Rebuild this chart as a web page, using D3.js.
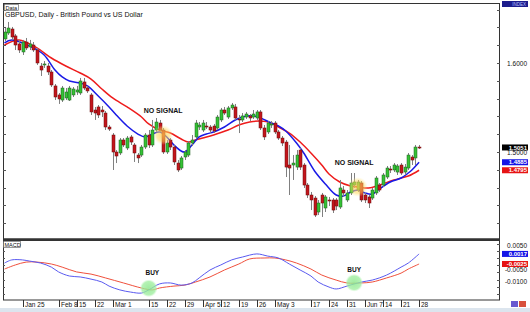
<!DOCTYPE html>
<html>
<head>
<meta charset="utf-8">
<script src="https://cdn.jsdelivr.net/npm/d3@7"></script>
<style>
  body { margin: 0; background: #fff; }
  svg { display: block; font-family: "Liberation Sans", Arial, sans-serif; }
</style>
</head>
<body>
<div id="chart"></div>
<script>
// GBPUSD daily candles, Jan 18 .. Jun 28 (one value per trading day)
var openP = [1.6270,1.6337,1.6382,1.6304,1.6214,1.6124,1.6236,1.6180,1.6202,1.6146,
  1.5966,1.5978,1.5966,1.5899,1.5742,1.5641,1.5584,1.5607,1.5584,1.5641,
  1.5674,1.5663,1.5787,1.5719,1.5641,1.5472,1.5506,1.5472,1.5438,1.5281,
  1.5191,1.5000,1.4989,1.5135,1.5045,1.5169,1.5079,1.4966,1.4966,1.5056,
  1.5191,1.5079,1.5247,1.5326,1.5247,1.5000,1.5135,1.5056,1.4876,1.4820,
  1.4944,1.4966,1.5101,1.5169,1.5281,1.5247,1.5292,1.5281,1.5292,1.5270,
  1.5360,1.5472,1.5393,1.5495,1.5506,1.5371,1.5360,1.5393,1.5405,1.5393,
  1.5382,1.5450,1.5270,1.5225,1.5303,1.5326,1.5225,1.5157,1.5112,1.4854,
  1.4854,1.4831,1.5022,1.4854,1.4629,1.4517,1.4483,1.4326,1.4517,1.4371,
  1.4461,1.4461,1.4461,1.4382,1.4573,1.4461,1.4540,1.4629,1.4573,1.4652,
  1.4517,1.4495,1.4483,1.4540,1.4629,1.4629,1.4719,1.4809,1.4798,1.4775,
  1.4854,1.4775,1.4820,1.4944,1.4933,1.5056];
var highP = [1.6405,1.6461,1.6405,1.6326,1.6259,1.6259,1.6281,1.6259,1.6236,1.6169,
  1.6000,1.6022,1.6000,1.5921,1.5764,1.5663,1.5742,1.5719,1.5742,1.5730,
  1.5742,1.5832,1.5832,1.5742,1.5663,1.5506,1.5528,1.5517,1.5461,1.5303,
  1.5213,1.5022,1.5157,1.5157,1.5180,1.5191,1.5101,1.4989,1.5079,1.5213,
  1.5247,1.5360,1.5382,1.5360,1.5270,1.5135,1.5157,1.5079,1.4910,1.4955,
  1.5022,1.5124,1.5191,1.5360,1.5337,1.5360,1.5337,1.5303,1.5315,1.5416,
  1.5495,1.5506,1.5517,1.5551,1.5540,1.5416,1.5438,1.5450,1.5427,1.5472,
  1.5472,1.5472,1.5303,1.5348,1.5348,1.5348,1.5247,1.5180,1.5135,1.5079,
  1.4966,1.5022,1.5045,1.4876,1.4652,1.4551,1.4506,1.4461,1.4540,1.4517,
  1.4495,1.4483,1.4483,1.4686,1.4618,1.4573,1.4764,1.4764,1.4686,1.4674,
  1.4540,1.4517,1.4596,1.4730,1.4652,1.4764,1.4843,1.4843,1.4876,1.4865,
  1.4876,1.4865,1.4989,1.4966,1.5079,1.5079];
var lowP = [1.6247,1.6315,1.6259,1.6146,1.6112,1.6090,1.6146,1.6146,1.6124,1.5978,
  1.5854,1.5944,1.5865,1.5730,1.5584,1.5540,1.5562,1.5584,1.5573,1.5618,
  1.5641,1.5641,1.5697,1.5663,1.5416,1.5360,1.5382,1.5393,1.5247,1.5236,
  1.4798,1.4876,1.4966,1.5056,1.5022,1.5079,1.4888,1.4876,1.4944,1.5034,
  1.5045,1.5056,1.5225,1.5225,1.4978,1.4978,1.5022,1.4854,1.4775,1.4798,
  1.4910,1.4944,1.5067,1.5146,1.5247,1.5225,1.5258,1.5213,1.5213,1.5247,
  1.5337,1.5416,1.5371,1.5472,1.5360,1.5213,1.5337,1.5371,1.5348,1.5371,
  1.5360,1.5247,1.5135,1.5202,1.5270,1.5202,1.5135,1.5067,1.4719,1.4517,
  1.4686,1.4798,1.4798,1.4596,1.4483,1.4348,1.4270,1.4292,1.4270,1.4326,
  1.4393,1.4315,1.4348,1.4360,1.4495,1.4438,1.4517,1.4596,1.4551,1.4438,
  1.4427,1.4371,1.4461,1.4517,1.4551,1.4607,1.4697,1.4764,1.4775,1.4742,
  1.4742,1.4742,1.4798,1.4854,1.4854,1.5034];
var closeP = [1.6348,1.6393,1.6292,1.6202,1.6146,1.6236,1.6169,1.6214,1.6146,1.6000,
  1.5921,1.5989,1.5899,1.5753,1.5618,1.5596,1.5719,1.5674,1.5719,1.5708,
  1.5697,1.5798,1.5719,1.5686,1.5450,1.5438,1.5416,1.5450,1.5281,1.5258,
  1.5000,1.4955,1.5135,1.5079,1.5157,1.5112,1.4989,1.4933,1.5056,1.5191,
  1.5079,1.5247,1.5337,1.5247,1.5000,1.5101,1.5056,1.4888,1.4798,1.4933,
  1.5000,1.5101,1.5135,1.5326,1.5303,1.5326,1.5290,1.5247,1.5236,1.5393,
  1.5472,1.5438,1.5495,1.5528,1.5382,1.5360,1.5405,1.5427,1.5382,1.5427,
  1.5450,1.5270,1.5169,1.5326,1.5315,1.5225,1.5157,1.5101,1.4831,1.4820,
  1.4876,1.4966,1.4831,1.4629,1.4517,1.4461,1.4292,1.4427,1.4427,1.4495,
  1.4450,1.4348,1.4393,1.4596,1.4540,1.4540,1.4652,1.4663,1.4663,1.4461,
  1.4461,1.4427,1.4573,1.4708,1.4573,1.4742,1.4820,1.4798,1.4854,1.4843,
  1.4764,1.4831,1.4966,1.4910,1.5056,1.5051];

// moving averages (bar index -> price)
var fastIdx = [0,2,8,11,14,16,18,21,23,26,29,31,34,37,39,41,43,45,47,49,50,52,54,56,58,61,64,66,69,71,74,76,78,81,83,86,89,92,94,96,98,100,102,104,107,110,112,113,115];
var fastMA = [1.6225,1.6259,1.6169,1.6090,1.5921,1.5843,1.5798,1.5775,1.5742,1.5629,1.5506,1.5416,1.5292,1.5202,1.5169,1.5202,1.5225,1.5169,1.5079,1.5011,1.5000,1.5079,1.5169,1.5202,1.5225,1.5281,1.5360,1.5393,1.5405,1.5382,1.5326,1.5292,1.5236,1.5101,1.4989,1.4787,1.4641,1.4517,1.4506,1.4551,1.4573,1.4540,1.4528,1.4585,1.4663,1.4708,1.4764,1.4798,1.4885];
var slowIdx = [0,4,9,13,17,21,24,27,30,34,38,40,43,46,49,51,53,55,58,62,65,68,71,74,76,79,82,85,88,90,93,96,98,101,104,108,112,115];
var slowMA = [1.6202,1.6259,1.6169,1.6056,1.5966,1.5888,1.5820,1.5708,1.5607,1.5506,1.5393,1.5315,1.5247,1.5213,1.5146,1.5112,1.5135,1.5157,1.5191,1.5247,1.5303,1.5337,1.5348,1.5326,1.5281,1.5213,1.5112,1.4989,1.4854,1.4753,1.4663,1.4618,1.4607,1.4596,1.4629,1.4686,1.4730,1.4795];

// MACD main and signal lines
var macdIdx = [0,2,5,7,10,13,15,18,21,24,27,29,32,35,38,40,43,46,49,52,54,57,60,63,66,70,73,76,79,82,85,87,90,92,95,99,102,106,110,112,115];
var macdMain = [-0.0021,-0.0008,-0.0008,-0.0013,-0.0021,-0.0038,-0.0058,-0.0075,-0.0079,-0.0088,-0.0100,-0.0117,-0.0133,-0.0142,-0.0146,-0.0133,-0.0108,-0.0104,-0.0113,-0.0104,-0.0083,-0.0050,-0.0029,-0.0008,0.0004,0.0017,0.0008,0.0000,-0.0025,-0.0050,-0.0075,-0.0100,-0.0121,-0.0129,-0.0117,-0.0100,-0.0092,-0.0071,-0.0038,-0.0021,0.0017];
var sigIdx = [0,3,6,9,13,16,20,24,28,33,38,41,43,47,50,53,57,61,65,68,72,75,78,81,85,88,92,95,99,102,106,110,112,115];
var macdSignal = [-0.0046,-0.0029,-0.0017,-0.0017,-0.0025,-0.0038,-0.0058,-0.0067,-0.0083,-0.0104,-0.0125,-0.0133,-0.0125,-0.0117,-0.0113,-0.0100,-0.0079,-0.0050,-0.0025,-0.0004,0.0000,0.0000,-0.0008,-0.0021,-0.0046,-0.0071,-0.0092,-0.0104,-0.0104,-0.0100,-0.0083,-0.0063,-0.0046,-0.0025];

// time axis labels (bar index of each Monday shown)
var dateIdx = [5,15,20,25,30,40,45,50,55,60,65,70,75,85,90,95,100,105,110,115];
var dateLabels = ["Jan 25","Feb 8","15","22","Mar 1","15","22","29","Apr 5","12","19","26","May 3","17","24","31","Jun 7","14","21","28"];

var priceLabels = [1.6, 1.5];
var macdLabels = [0.005, -0.005, -0.01];

var W = 530, H = 312;
var svg = d3.select("#chart").append("svg").attr("width", W).attr("height", H);

var x = d3.scaleLinear().domain([0, 115]).range([4.5, 419.1]);
var y = d3.scaleLinear().domain([1.4034, 1.6674]).range([238, 3]);
var ym = d3.scaleLinear().domain([-0.0175, 0.0075]).range([300, 240]);

// bottom strip
svg.append("rect").attr("x", 0).attr("y", 308).attr("width", W).attr("height", 4).attr("fill", "#dce5ee");

svg.append("clipPath").attr("id", "cMain").append("rect").attr("x", 3).attr("y", 3).attr("width", 497).attr("height", 236);
svg.append("clipPath").attr("id", "cMacd").append("rect").attr("x", 3).attr("y", 240).attr("width", 497).attr("height", 60);

var main = svg.append("g").attr("clip-path", "url(#cMain)");

// moving averages
var line = d3.line().curve(d3.curveCatmullRom.alpha(0.5));
main.append("path")
  .attr("d", line(slowIdx.map(function (d, i) { return [x(d), y(slowMA[i])]; })))
  .attr("fill", "none").attr("stroke", "#ee1c1c").attr("stroke-width", 1.5);
main.append("path")
  .attr("d", line(fastIdx.map(function (d, i) { return [x(d), y(fastMA[i])]; })))
  .attr("fill", "none").attr("stroke", "#1a1ae6").attr("stroke-width", 1.5);

// candles
var bars = openP.map(function (o, i) {
  return { i: i, o: o, h: highP[i], l: lowP[i], c: closeP[i] };
});
var cg = main.selectAll("g.candle").data(bars).enter().append("g").attr("class", "candle");
cg.append("line")
  .attr("x1", function (d) { return Math.round(x(d.i)) + 0.5; })
  .attr("x2", function (d) { return Math.round(x(d.i)) + 0.5; })
  .attr("y1", function (d) { return y(d.h); })
  .attr("y2", function (d) { return y(d.l); })
  .attr("stroke", "#808080").attr("stroke-width", 1);
cg.append("rect")
  .attr("x", function (d) { return Math.round(x(d.i)) - 1; })
  .attr("width", 3)
  .attr("y", function (d) { return y(Math.max(d.o, d.c)); })
  .attr("height", function (d) { return Math.max(1, Math.abs(y(d.o) - y(d.c))); })
  .attr("fill", function (d) { return d.c >= d.o ? "#35c135" : "#c3161c"; })
  .attr("stroke", function (d) { return d.c >= d.o ? "#1f5f1f" : "#6a0c0c"; })
  .attr("stroke-width", 0.5);

// highlight glows
var defs = svg.append("defs");
var gy = defs.append("radialGradient").attr("id", "glowY");
gy.append("stop").attr("offset", "0%").attr("stop-color", "#ffc84a").attr("stop-opacity", 0.75);
gy.append("stop").attr("offset", "65%").attr("stop-color", "#ffd85a").attr("stop-opacity", 0.5);
gy.append("stop").attr("offset", "100%").attr("stop-color", "#fff0a0").attr("stop-opacity", 0);
var gg = defs.append("radialGradient").attr("id", "glowG");
gg.append("stop").attr("offset", "0%").attr("stop-color", "#8fe88f").attr("stop-opacity", 0.85);
gg.append("stop").attr("offset", "75%").attr("stop-color", "#9cee9c").attr("stop-opacity", 0.75);
gg.append("stop").attr("offset", "100%").attr("stop-color", "#c8f7c8").attr("stop-opacity", 0);

[[44, 1.5191], [98, 1.4607]].forEach(function (p) {
  main.append("circle").attr("cx", x(p[0])).attr("cy", y(p[1])).attr("r", 10).attr("fill", "url(#glowY)");
});

// NO SIGNAL labels
[[44, 1.5440], [97, 1.4850]].forEach(function (p) {
  svg.append("text").attr("x", x(p[0])).attr("y", y(p[1]))
    .attr("text-anchor", "middle").attr("font-size", 7).attr("font-weight", "bold")
    .attr("fill", "#111").text("NO SIGNAL");
});

// main panel frame and ticks
svg.append("rect").attr("x", 3.5).attr("y", 3.5).attr("width", 496).attr("height", 235.5)
  .attr("fill", "none").attr("stroke", "#333").attr("stroke-width", 1);
var pTicks = d3.range(1.42, 1.661, 0.02);
pTicks.forEach(function (t) {
  var yy = Math.round(y(t)) + 0.5;
  svg.append("line").attr("x1", 3).attr("x2", 6).attr("y1", yy).attr("y2", yy).attr("stroke", "#555");
  svg.append("line").attr("x1", 497).attr("x2", 500).attr("y1", yy).attr("y2", yy).attr("stroke", "#555");
});
priceLabels.forEach(function (t) {
  svg.append("text").attr("x", 527).attr("y", y(t) + 1).attr("dy", "0.35em")
    .attr("text-anchor", "end").attr("font-size", 6.5).attr("fill", "#111").text(t.toFixed(4));
});

// header texts
svg.append("rect").attr("x", 4.5).attr("y", 4.5).attr("width", 14).attr("height", 6)
  .attr("fill", "#fff").attr("stroke", "#555").attr("stroke-width", 0.6);
svg.append("text").attr("x", 5.5).attr("y", 9.6).attr("font-size", 5.5).attr("fill", "#111").text("Data");
svg.append("text").attr("x", 5).attr("y", 17).attr("font-size", 7).attr("fill", "#111")
  .text("GBPUSD, Daily - British Pound vs US Dollar");

// INDEX tag
svg.append("rect").attr("x", 502).attr("y", 1).attr("width", 26).attr("height", 6).attr("fill", "#1c1c8c");
svg.append("text").attr("x", 526).attr("y", 6).attr("text-anchor", "end").attr("font-size", 4.5)
  .attr("fill", "#b8c0ff").text("INDEX");

// right price tags
function tag(val, yy, bg, fg) {
  svg.append("rect").attr("x", 502).attr("y", yy - 3).attr("width", 26).attr("height", 6).attr("fill", bg);
  svg.append("text").attr("x", 527).attr("y", yy).attr("dy", "0.35em").attr("text-anchor", "end")
    .attr("font-size", 6).attr("font-weight", "bold").attr("fill", fg).text(val);
}
tag(closeP[closeP.length - 1].toFixed(4), y(closeP[closeP.length - 1]), "#000", "#fff");
tag(fastMA[fastMA.length - 1].toFixed(4), y(fastMA[fastMA.length - 1]), "#1414e6", "#fff");
tag(slowMA[slowMA.length - 1].toFixed(4), y(slowMA[slowMA.length - 1]), "#e61414", "#fff");

// MACD panel
var mg = svg.append("g").attr("clip-path", "url(#cMacd)");
mg.append("path")
  .attr("d", line(sigIdx.map(function (d, i) { return [x(d), ym(macdSignal[i])]; })))
  .attr("fill", "none").attr("stroke", "#f0503c").attr("stroke-width", 1);
mg.append("path")
  .attr("d", line(macdIdx.map(function (d, i) { return [x(d), ym(macdMain[i])]; })))
  .attr("fill", "none").attr("stroke", "#5a5af0").attr("stroke-width", 1);

[[40, -0.0126], [97, -0.0103]].forEach(function (p) {
  mg.append("circle").attr("cx", x(p[0])).attr("cy", ym(p[1])).attr("r", 9).attr("fill", "url(#glowG)");
});
[[41, -0.0070], [97, -0.0058]].forEach(function (p) {
  svg.append("text").attr("x", x(p[0])).attr("y", ym(p[1]))
    .attr("text-anchor", "middle").attr("font-size", 6.5).attr("font-weight", "bold")
    .attr("fill", "#111").text("BUY");
});

svg.append("line").attr("x1", 3).attr("x2", 500).attr("y1", 239.5).attr("y2", 239.5)
  .attr("stroke", "#333").attr("stroke-width", 2);
svg.append("rect").attr("x", 3.5).attr("y", 240.5).attr("width", 496).attr("height", 59.5)
  .attr("fill", "none").attr("stroke", "#333").attr("stroke-width", 1);
d3.range(-0.018, 0.0076, 0.003).forEach(function (t) {
  var yy = Math.round(ym(t)) + 0.5;
  if (yy < 241 || yy > 299) return;
  svg.append("line").attr("x1", 3).attr("x2", 5).attr("y1", yy).attr("y2", yy).attr("stroke", "#555");
  svg.append("line").attr("x1", 497).attr("x2", 500).attr("y1", yy).attr("y2", yy).attr("stroke", "#555");
});
macdLabels.forEach(function (t) {
  svg.append("text").attr("x", 527).attr("y", ym(t)).attr("dy", "0.35em")
    .attr("text-anchor", "end").attr("font-size", 6.5).attr("fill", "#111").text(t.toFixed(4));
});
tag(macdMain[macdMain.length - 1].toFixed(4), ym(macdMain[macdMain.length - 1]), "#1414e6", "#fff");
tag(macdSignal[macdSignal.length - 1].toFixed(4), ym(macdSignal[macdSignal.length - 1]), "#e61414", "#fff");

svg.append("rect").attr("x", 3.5).attr("y", 241.5).attr("width", 17).attr("height", 6)
  .attr("fill", "#fff").attr("stroke", "#555").attr("stroke-width", 0.6);
svg.append("text").attr("x", 4.5).attr("y", 246.6).attr("font-size", 5.5).attr("fill", "#111").text("MACD");

// date axis
var dg = svg.append("g");
dateIdx.forEach(function (d, i) {
  var xx = Math.round(x(d)) + 0.5;
  dg.append("line").attr("x1", xx).attr("x2", xx).attr("y1", 300).attr("y2", 307).attr("stroke", "#333");
  dg.append("text").attr("x", xx + 1.5).attr("y", 306.5).attr("font-size", 6.5).attr("fill", "#111").text(dateLabels[i]);
});

// scroll buttons
svg.append("rect").attr("x", 511).attr("y", 301).attr("width", 7).attr("height", 6).attr("fill", "#6a5ad0");
svg.append("rect").attr("x", 519).attr("y", 301).attr("width", 7).attr("height", 6).attr("fill", "#d8503c");
</script>
</body>
</html>
